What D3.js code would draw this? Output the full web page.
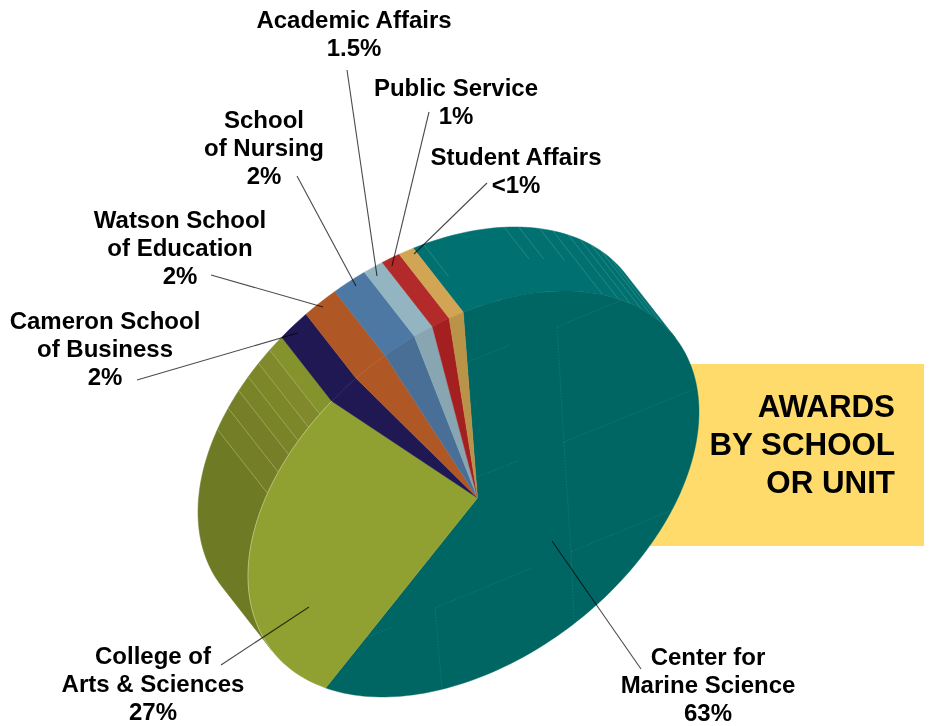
<!DOCTYPE html>
<html>
<head>
<meta charset="utf-8">
<title>Awards by school or unit</title>
<script src="https://cdn.jsdelivr.net/npm/d3@7"></script>
<style>
  html, body { margin: 0; padding: 0; background: #fff; }
  svg { display: block; }
  text { font-family: "Liberation Sans", Arial, sans-serif; font-weight: bold; fill: #000; }
</style>
</head>
<body>
<div id="chart"></div>
<script>
// slice order runs clockwise from the top of the Marine Science slice
var categories = ["Center for Marine Science", "College of Arts & Sciences", "Cameron School of Business",
  "Watson School of Education", "School of Nursing", "Academic Affairs", "Public Service", "Student Affairs"];
// shares, the printed labels round these
var shares = [62.1, 27.8, 2.1, 2.3, 2.2, 1.3, 1.2, 1.0];
var printedLabels = ["63%", "27%", "2%", "2%", "2%", "1.5%", "1%", "<1%"];
var labelNames = [["Center for", "Marine Science"], ["College of", "Arts & Sciences"], ["Cameron School", "of Business"],
  ["Watson School", "of Education"], ["School", "of Nursing"], ["Academic Affairs"], ["Public Service"], ["Student Affairs"]];
var titleLines = ["AWARDS", "BY SCHOOL", "OR UNIT"];

var faceColors = ["#006663", "#91a131", "#1f1853", "#b05726", "#496f96", "#87a6b2", "#a42020", "#b99347"];
var wallColors = ["#007170", "#84932c", "#1f1853", "#b05726", "#4c78a3", "#93b5c2", "#b22a2a", "#d1a554"];

// label layout: center x, first baseline y, leader line from / to
var labelX = [708, 153, 105, 180, 264, 354, 456, 516];
var labelY = [665, 664, 329, 228, 128, 28, 96, 165];
var leaders = [[641, 669, 552, 541], [221, 665, 309, 607], [137, 380, 298, 333], [211, 275, 323, 307],
  [297, 176, 356, 286], [347, 70, 377, 276], [429, 112, 392, 266], [487, 183, 414, 254]];

// the seams left in the extruded wall, as angles around the rim
var greenSeams = [204, 210, 215, 219, 223, 227];
var greenBandColors = ["#6f7a25", "#737e27", "#767f28", "#798429", "#7c872a", "#80892b", "#84932c"];
var tealSeams = [305, 310, 314, 318, 322, 326];
var tealShortSeams = [270, 291, 295, 301];
var faceSeams = [[557, 327, 622, 300], [557, 327, 564, 442], [564, 442, 697, 388], [564, 442, 571, 552], [571, 552, 672, 510],
  [571, 552, 574, 620], [468, 362, 510, 345], [477, 477, 518, 461], [435, 608, 532, 568], [435, 608, 442, 689], [367, 637, 393, 627]];

var svgWidth = 933;
var svgHeight = 726;

var center = { x: 473.5, y: 494 };
var apex = { x: 477.5, y: 498 };
var axisU = { x: 225.5, y: -82 };
var axisV = { x: 0, y: 185.7 };
var depth = { x: -50, y: -64 };
var startDeg = 267.4;

var toRad = Math.PI / 180;

// unit circle angle to a point on the tilted top rim
function rim(t) {
  return [center.x + axisU.x * Math.cos(t) + axisV.x * Math.sin(t),
          center.y + axisU.y * Math.cos(t) + axisV.y * Math.sin(t)];
}
function back(p) {
  return [p[0] + depth.x, p[1] + depth.y];
}
function arcPoints(a0, a1) {
  var n = Math.max(2, Math.ceil((a1 - a0) / (toRad * 1.5)));
  return d3.range(n + 1).map(function (i) { return rim(a0 + (a1 - a0) * i / n); });
}

var svg = d3.select("#chart")
  .append("svg")
  .attr("width", svgWidth)
  .attr("height", svgHeight);

var line = d3.line();

// yellow panel sits behind the pie
svg.append("rect")
  .attr("x", 600)
  .attr("y", 364)
  .attr("width", 324)
  .attr("height", 182)
  .attr("fill", "#fedb6b");

var slices = d3.pie()
  .sort(null)
  .value(function (d) { return d; })
  .startAngle(startDeg * toRad)
  .endAngle((startDeg + 360) * toRad)(shares);

// wall is only visible on the half of the rim that faces away from the viewer
var visibleFrom = 153.4 * toRad;
var visibleTo = 333.4 * toRad;

var wall = svg.append("g");

function wallBand(a0, a1, fill) {
  var front = arcPoints(a0, a1);
  var rear = front.map(back).reverse();
  wall.append("path")
    .attr("d", line(front.concat(rear)) + "Z")
    .attr("fill", fill)
    .attr("stroke", fill)
    .attr("stroke-width", 0.5);
}

slices.forEach(function (s, i) {
  [0, 2 * Math.PI].forEach(function (turn) {
    var a0 = Math.max(s.startAngle, visibleFrom + turn);
    var a1 = Math.min(s.endAngle, visibleTo + turn);
    if (a1 <= a0) return;
    if (i === 1) {
      // green wall steps darker towards the left, one band per seam
      var edges = [a0].concat(greenSeams.map(function (d) { return d * toRad + turn; }), [a1]);
      greenBandColors.forEach(function (c, k) { wallBand(edges[k], edges[k + 1], c); });
    } else {
      wallBand(a0, a1, wallColors[i]);
    }
  });
});

function drawSeams(list, length, color) {
  wall.selectAll(null)
    .data(list)
    .enter()
    .append("line")
    .attr("x1", function (d) { return back(rim(d * toRad))[0]; })
    .attr("y1", function (d) { return back(rim(d * toRad))[1]; })
    .attr("x2", function (d) { return back(rim(d * toRad))[0] - depth.x * length; })
    .attr("y2", function (d) { return back(rim(d * toRad))[1] - depth.y * length; })
    .attr("stroke", color)
    .attr("stroke-width", 0.6);
}
drawSeams(greenSeams, 1, "#a9b46a");
drawSeams(tealSeams, 1, "#3f9593");
drawSeams(tealShortSeams, 0.5, "#3f9593");

// top face of every slice
svg.append("g")
  .selectAll("path")
  .data(slices)
  .enter()
  .append("path")
  .attr("d", function (d) {
    return line([[apex.x, apex.y]].concat(arcPoints(d.startAngle, d.endAngle))) + "Z";
  })
  .attr("fill", function (d, i) { return faceColors[i]; })
  .attr("stroke", function (d, i) { return faceColors[i]; })
  .attr("stroke-width", 0.4);

// thin pale edge where the green face meets its wall
svg.append("path")
  .attr("d", line(arcPoints(visibleFrom + 2 * Math.PI, slices[1].endAngle)))
  .attr("fill", "none")
  .attr("stroke", "#c3cc8c")
  .attr("stroke-width", 0.7);

svg.append("g")
  .selectAll("line")
  .data(faceSeams)
  .enter()
  .append("line")
  .attr("x1", function (d) { return d[0]; })
  .attr("y1", function (d) { return d[1]; })
  .attr("x2", function (d) { return d[2]; })
  .attr("y2", function (d) { return d[3]; })
  .attr("stroke", "#5f9f9c")
  .attr("stroke-opacity", 0.25)
  .attr("stroke-width", 0.8)
  .attr("stroke-dasharray", "2 1");

// leader lines, multiply so they go black over the colours
svg.append("g")
  .selectAll("line")
  .data(leaders)
  .enter()
  .append("line")
  .attr("x1", function (d) { return d[0]; })
  .attr("y1", function (d) { return d[1]; })
  .attr("x2", function (d) { return d[2]; })
  .attr("y2", function (d) { return d[3]; })
  .attr("stroke", "#4a4a4a")
  .attr("stroke-width", 1.1)
  .style("mix-blend-mode", "multiply");

// labels
categories.forEach(function (c, i) {
  var lines = labelNames[i].concat(printedLabels[i]);
  var label = svg.append("text")
    .attr("text-anchor", "middle")
    .attr("font-size", "24px");
  lines.forEach(function (txt, k) {
    label.append("tspan")
      .attr("x", labelX[i])
      .attr("y", labelY[i] + k * 28)
      .text(txt);
  });
});

// panel title
svg.append("g")
  .selectAll("text")
  .data(titleLines)
  .enter()
  .append("text")
  .attr("x", 895)
  .attr("y", function (d, i) { return 417 + i * 38; })
  .attr("text-anchor", "end")
  .attr("font-size", "31.3px")
  .text(function (d) { return d; });
</script>
</body>
</html>
